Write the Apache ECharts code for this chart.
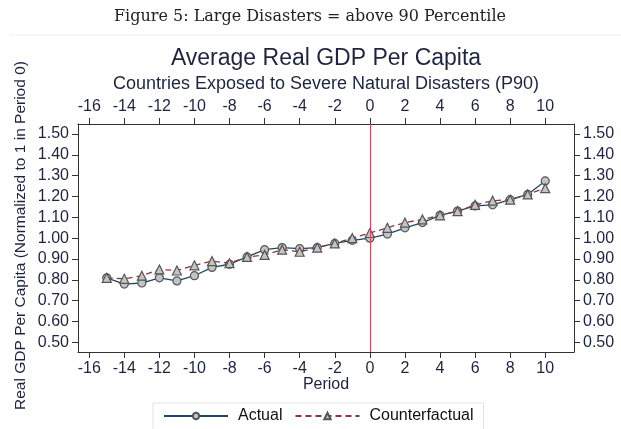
<!DOCTYPE html>
<html>
<head>
<meta charset="utf-8">
<script src="https://cdn.jsdelivr.net/npm/echarts@6/dist/echarts.min.js"></script>
<style>
html,body{margin:0;padding:0;background:#fff;}
#c{width:621px;height:429px;}
</style>
</head>
<body>
<div id="c"></div>
<script>
const periods = [-15,-14,-13,-12,-11,-10,-9,-8,-7,-6,-5,-4,-3,-2,-1,0,1,2,3,4,5,6,7,8,9,10];
const actual = [0.81,0.78,0.785,0.81,0.795,0.82,0.86,0.875,0.91,0.945,0.955,0.95,0.955,0.975,0.99,1.00,1.02,1.05,1.075,1.11,1.13,1.155,1.16,1.185,1.21,1.275];
const counterfactual = [0.81,0.805,0.82,0.85,0.845,0.87,0.89,0.88,0.91,0.92,0.945,0.935,0.955,0.975,1.00,1.025,1.05,1.075,1.09,1.11,1.13,1.16,1.18,1.185,1.21,1.24];
const xTicks = [-16,-14,-12,-10,-8,-6,-4,-2,0,2,4,6,8,10];
const yTicks = [0.5,0.6,0.7,0.8,0.9,1.0,1.1,1.2,1.3,1.4,1.5];

const FONT = 'Liberation Sans, Arial, sans-serif';
const LBL = '#1c2440';
const chart = echarts.init(document.getElementById('c'), null, {renderer:'canvas'});

function xAxisDef(pos){
  return {
    type:'value', position:pos, min:-16.64, max:11.64,
    axisLine:{show:true, onZero:false, lineStyle:{color:'#333', width:1}},
    axisTick:{show:true, length:6, customValues:xTicks, lineStyle:{color:'#333'}},
    axisLabel:{show:true, customValues:xTicks, color:LBL, fontFamily:FONT, fontSize:16, margin:9},
    splitLine:{show:false}
  };
}
function yAxisDef(pos){
  return {
    type:'value', position:pos, min:0.454, max:1.548,
    axisLine:{show:true, onZero:false, lineStyle:{color:'#333', width:1}},
    axisTick:{show:true, length:6, customValues:yTicks, lineStyle:{color:'#333'}},
    axisLabel:{show:true, customValues:yTicks, color:LBL, fontFamily:FONT, fontSize:16, margin:9,
      formatter:v=>v.toFixed(2)},
    splitLine:{show:false}
  };
}

chart.setOption({
  animation:false,
  backgroundColor:'#fff',
  grid:{left:78, right:47, top:124, bottom:77, containLabel:false},
  xAxis:[xAxisDef('bottom'), xAxisDef('top')],
  yAxis:[yAxisDef('left'), yAxisDef('right')],
  legend:{
    left:153, top:403, padding:[5,10,8,10], itemGap:12,
    itemWidth:64, itemHeight:8,
    borderColor:'#dfe3e6', borderWidth:1,
    textStyle:{fontFamily:FONT, fontSize:16, color:'#111', padding:[0,0,0,5]},
    data:['Actual','Counterfactual']
  },
  graphic:[
    {type:'text', x:310, y:17, style:{text:'Figure 5: Large Disasters = above 90 Percentile', font:'16px "DejaVu Serif", "Liberation Serif", serif', fill:'#222', align:'center', verticalAlign:'middle'}},
    {type:'line', shape:{x1:10, y1:35, x2:621, y2:35}, style:{stroke:'#e9eef0', lineWidth:1}},
    {type:'text', x:326, y:59, style:{text:'Average Real GDP Per Capita', font:'23px '+FONT, fill:LBL, align:'center', verticalAlign:'middle'}},
    {type:'text', x:326, y:84, style:{text:'Countries Exposed to Severe Natural Disasters (P90)', font:'18px '+FONT, fill:LBL, align:'center', verticalAlign:'middle'}},
    {type:'text', x:326, y:385, style:{text:'Period', font:'16px '+FONT, fill:LBL, align:'center', verticalAlign:'middle'}},
    {type:'text', x:20.5, y:235.5, rotation:Math.PI/2, style:{text:'Real GDP Per Capita (Normalized to 1 in Period 0)', font:'15.5px '+FONT, fill:LBL, align:'center', verticalAlign:'middle'}}
  ],
  series:[
    {
      name:'Actual', type:'line', xAxisIndex:0, yAxisIndex:0,
      data:periods.map((p,i)=>[p, actual[i]]),
      symbol:'circle', symbolSize:8,
      lineStyle:{color:'#1a476f', width:1.3},
      itemStyle:{color:'#c4c4c4', borderColor:'#555', borderWidth:1.2},
      markLine:{silent:true, symbol:'none', label:{show:false},
        lineStyle:{color:'#e0405a', type:'solid', width:1},
        data:[{xAxis:0}]},
      z:3
    },
    {
      name:'Counterfactual', type:'line', xAxisIndex:0, yAxisIndex:0,
      data:periods.map((p,i)=>[p, counterfactual[i]]),
      symbol:'triangle', symbolSize:9,
      lineStyle:{color:'#90353b', width:1.3, type:[6,4]},
      itemStyle:{color:'#c4c4c4', borderColor:'#555', borderWidth:1.2},
      z:4
    }
  ]
});
</script>
</body>
</html>
